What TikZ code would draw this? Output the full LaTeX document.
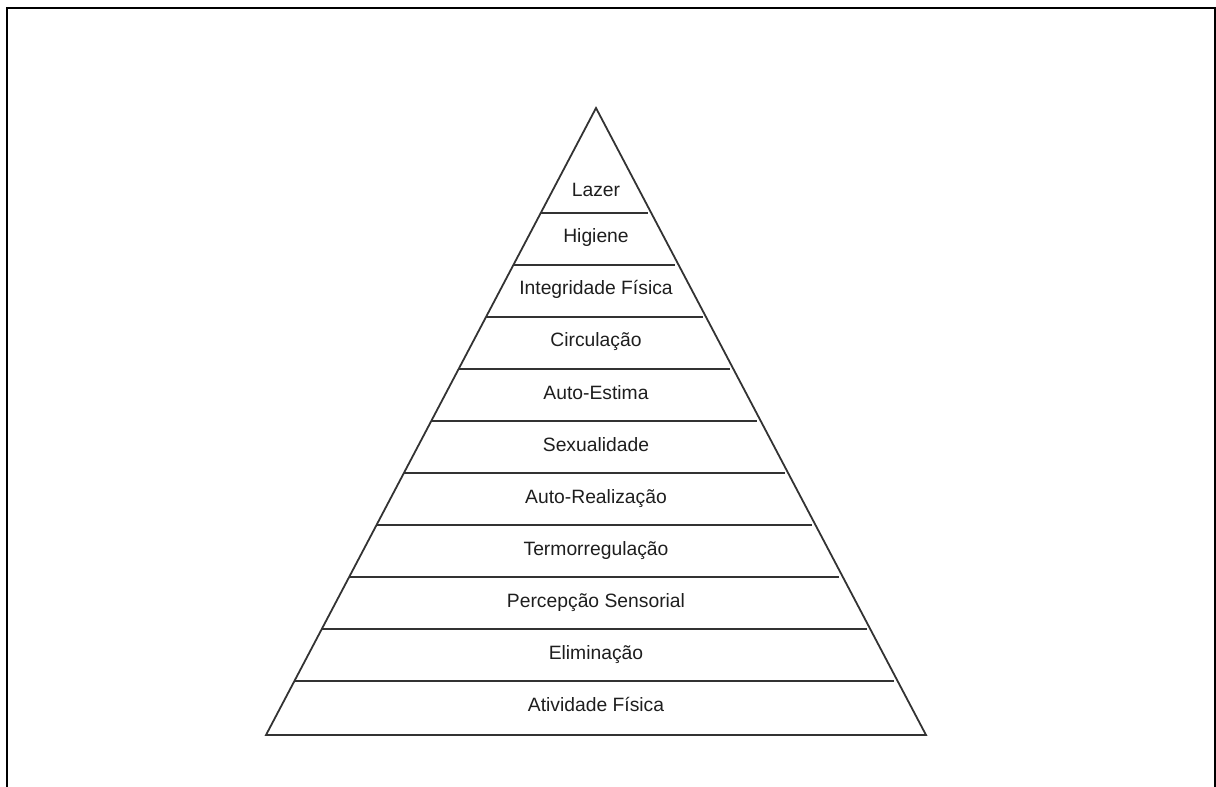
\documentclass[tikz,border=0pt]{standalone}
\usepackage{fontspec}
\setmainfont{Liberation Sans}
\usetikzlibrary{calc}
\definecolor{edgegray}{HTML}{333333}
\definecolor{labelgray}{HTML}{1E1E1E}
\tikzset{
  frameline/.style={draw=black, line width=2pt},
  pyramidline/.style={draw=edgegray, line width=1.8pt, line join=miter},
  bandline/.style={draw=edgegray, line width=2pt},
  bandlabel/.style={anchor=base, inner sep=0pt, text=labelgray,
    font=\fontsize{19.3}{23}\selectfont},
}
\begin{document}
\begin{tikzpicture}[x=1pt, y=-1pt]
  \useasboundingbox (0,0) rectangle (1216,787);
  \clip (0,0) rectangle (1216,787);

  % outer frame (open at the bottom edge of the page)
  \draw[frameline] (7,800) -- (7,8) -- (1215,8) -- (1215,800);

  % pyramid outline
  \coordinate (apex) at (596,108);
  \coordinate (bl) at (266,735);
  \coordinate (br) at (926,735);
  \draw[pyramidline] (apex) -- (bl) -- (br) -- cycle;

  % band separators (stop just short of the right side)
  \foreach \k in {0,...,9} {
    \pgfmathsetmacro{\t}{(213 + 52*\k - 108)/627}
    \draw[bandline] ($(apex)!\t!(bl)$) -- ($(apex)!\t!(br) + (-3.5,0)$);
  }

  % band labels, top to bottom
  \node[bandlabel] (lazer) at (596,196) {Lazer};
  \foreach \name/\txt [count=\i] in {
      higiene/Higiene,
      integridade/Integridade Física,
      circulacao/Circulação,
      autoestima/Auto-Estima,
      sexualidade/Sexualidade,
      autorealizacao/Auto-Realização,
      termo/Termorregulação,
      percepcao/Percepção Sensorial,
      eliminacao/Eliminação,
      atividade/Atividade Física} {
    \pgfmathsetmacro{\yb}{242.7 + 52.1*(\i-1)}
    \node[bandlabel] (\name) at (596,\yb) {\txt};
  }
\end{tikzpicture}
\end{document}
